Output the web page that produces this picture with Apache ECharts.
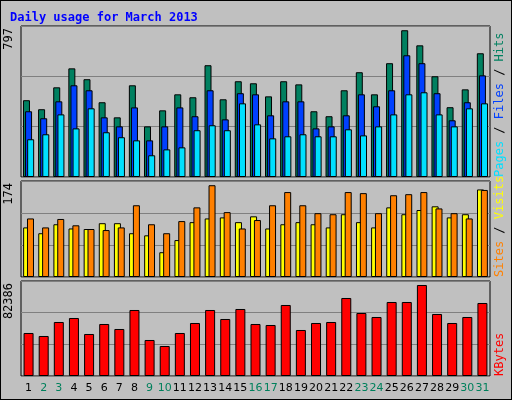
<!DOCTYPE html>
<html><head><meta charset="utf-8">
<script src="https://cdn.jsdelivr.net/npm/echarts@6/dist/echarts.min.js"></script>
<style>html,body{margin:0;padding:0;background:#c0c0c0}#c{width:510px;height:398px;border:1px solid #000;box-shadow:inset 1px 1px 0 #fff}</style>
</head><body><div id="c"></div>
<script>
const days = ['1','2','3','4','5','6','7','8','9','10','11','12','13','14','15','16','17','18','19','20','21','22','23','24','25','26','27','28','29','30','31'];
const weekend = ['2','3','9','10','16','17','23','24','30','31'];
const hits = [417,368,487,590,531,406,324,498,275,362,449,433,607,422,520,509,438,520,503,357,330,471,569,449,618,797,715,547,379,476,672];
const files = [357,319,411,498,471,324,275,378,199,275,378,330,471,313,455,449,335,411,411,264,275,335,449,384,471,661,618,455,308,406,552];
const pages = [205,232,340,264,373,243,216,199,118,150,161,254,281,254,400,286,210,221,232,221,221,259,226,275,340,449,460,340,275,373,400];
const sites = [94,83,100,92,91,102,102,83,79,47,70,104,111,113,104,115,92,100,104,100,94,119,104,94,132,119,127,134,113,119,166];
const visits = [111,94,110,98,91,89,94,136,100,83,106,132,174,123,92,108,136,161,136,121,119,161,159,121,155,157,161,130,121,111,165];
const kbytes = [38930,36215,48890,52510,38025,47080,42550,59755,32595,27160,38930,47985,59755,51605,60660,47080,46175,64280,41650,47985,48890,70620,57040,53420,67000,67000,82386,56135,47985,53420,66090];
const maxLabels = ['797','174','82386'];
const axisMax = [820, 182, 86000];

const ch = echarts.init(document.getElementById('c'));
const grids = [{left:20,right:21,top:25,height:151},{left:20,right:21,top:180,height:96},{left:20,right:21,top:280,height:95}];
const bs = {borderColor:'#000',borderWidth:1};
function xa(i){return {type:'category',gridIndex:i,data:days,axisLine:{show:false},axisTick:{show:false},
  axisLabel:{show:i===2,interval:0,margin:7,fontFamily:'DejaVu Sans',fontSize:11,color:(v)=>weekend.includes(v)?'#00805c':'#000'}};}
function ya(i){return {type:'value',gridIndex:i,min:0,max:axisMax[i],interval:axisMax[i]/3,axisLabel:{show:false},axisLine:{show:false},axisTick:{show:false},splitLine:{lineStyle:{color:'#808080',width:1}}};}
const mono = 'DejaVu Sans Mono';
function vtext(x,y,parts){ // rotated text reading bottom-to-top
  return {type:'text',x:x,y:y,rotation:Math.PI/2,style:{rich:{a:{}},text:parts.map(p=>'{'+p[1]+'|'+p[0]+'}').join(''),font:'12px '+mono,textAlign:'right',textVerticalAlign:'middle',
   rich:Object.fromEntries(parts.map(p=>[p[1],{fill:p[2],fontFamily:mono,fontSize:12}]))}};
}
ch.setOption({
  animation:false,
  backgroundColor:'#c0c0c0',
  title:{text:'Daily usage for March 2013',left:4,top:6,textStyle:{color:'#0000ff',fontFamily:mono,fontSize:12,fontWeight:'bold'}},
  grid:grids.map(g=>Object.assign({show:true,backgroundColor:'#c0c0c0',borderColor:'#000',borderWidth:1},g)),
  xAxis:[xa(0),xa(1),xa(2)],
  yAxis:[ya(0),ya(1),ya(2)],
  series:[
    {type:'bar',xAxisIndex:0,yAxisIndex:0,data:hits,barWidth:7,barGap:'-70%',itemStyle:Object.assign({color:'#008060'},bs)},
    {type:'bar',xAxisIndex:0,yAxisIndex:0,data:files,barWidth:7,barGap:'-70%',itemStyle:Object.assign({color:'#0040ff'},bs)},
    {type:'bar',xAxisIndex:0,yAxisIndex:0,data:pages,barWidth:7,barGap:'-70%',itemStyle:Object.assign({color:'#00e0ff'},bs)},
    {type:'bar',xAxisIndex:1,yAxisIndex:1,data:sites,barWidth:7,barGap:'-45%',itemStyle:Object.assign({color:'#ffff00'},bs)},
    {type:'bar',xAxisIndex:1,yAxisIndex:1,data:visits,barWidth:7,barGap:'-45%',itemStyle:Object.assign({color:'#ff8000'},bs)},
    {type:'bar',xAxisIndex:2,yAxisIndex:2,data:kbytes,barWidth:10,itemStyle:Object.assign({color:'#ff0000'},bs)}
  ],
  graphic:[
    {type:'text',x:8,y:27,rotation:Math.PI/2,style:{text:maxLabels[0],font:'12px '+mono,fill:'#000',textAlign:'right',textVerticalAlign:'middle'}},
    {type:'text',x:8,y:182,rotation:Math.PI/2,style:{text:maxLabels[1],font:'12px '+mono,fill:'#000',textAlign:'right',textVerticalAlign:'middle'}},
    {type:'text',x:8,y:282,rotation:Math.PI/2,style:{text:maxLabels[2],font:'12px '+mono,fill:'#000',textAlign:'right',textVerticalAlign:'middle'}},
    {type:'text',x:499,y:176,rotation:Math.PI/2,style:{text:'{p|Pages}{s|/}{f|Files}{s|/}{h|Hits}'.replace(/\{s\|\/\}/g,'{s| / }'),font:'12px '+mono,textAlign:'left',textVerticalAlign:'middle',
      rich:{p:{fill:'#00e0ff',fontFamily:mono,fontSize:12},s:{fill:'#000',fontFamily:mono,fontSize:12},f:{fill:'#0040ff',fontFamily:mono,fontSize:12},h:{fill:'#008060',fontFamily:mono,fontSize:12}}}},
    {type:'text',x:499,y:276,rotation:Math.PI/2,style:{text:'{a|Sites}{s| / }{b|Visits}',font:'12px '+mono,textAlign:'left',textVerticalAlign:'middle',
      rich:{a:{fill:'#ff8000',fontFamily:mono,fontSize:12},s:{fill:'#000',fontFamily:mono,fontSize:12},b:{fill:'#ffff00',fontFamily:mono,fontSize:12}}}},
    {type:'text',x:499,y:375,rotation:Math.PI/2,style:{text:'KBytes',font:'12px '+mono,fill:'#ff0000',textAlign:'left',textVerticalAlign:'middle'}}
  ]
});
</script></body></html>
